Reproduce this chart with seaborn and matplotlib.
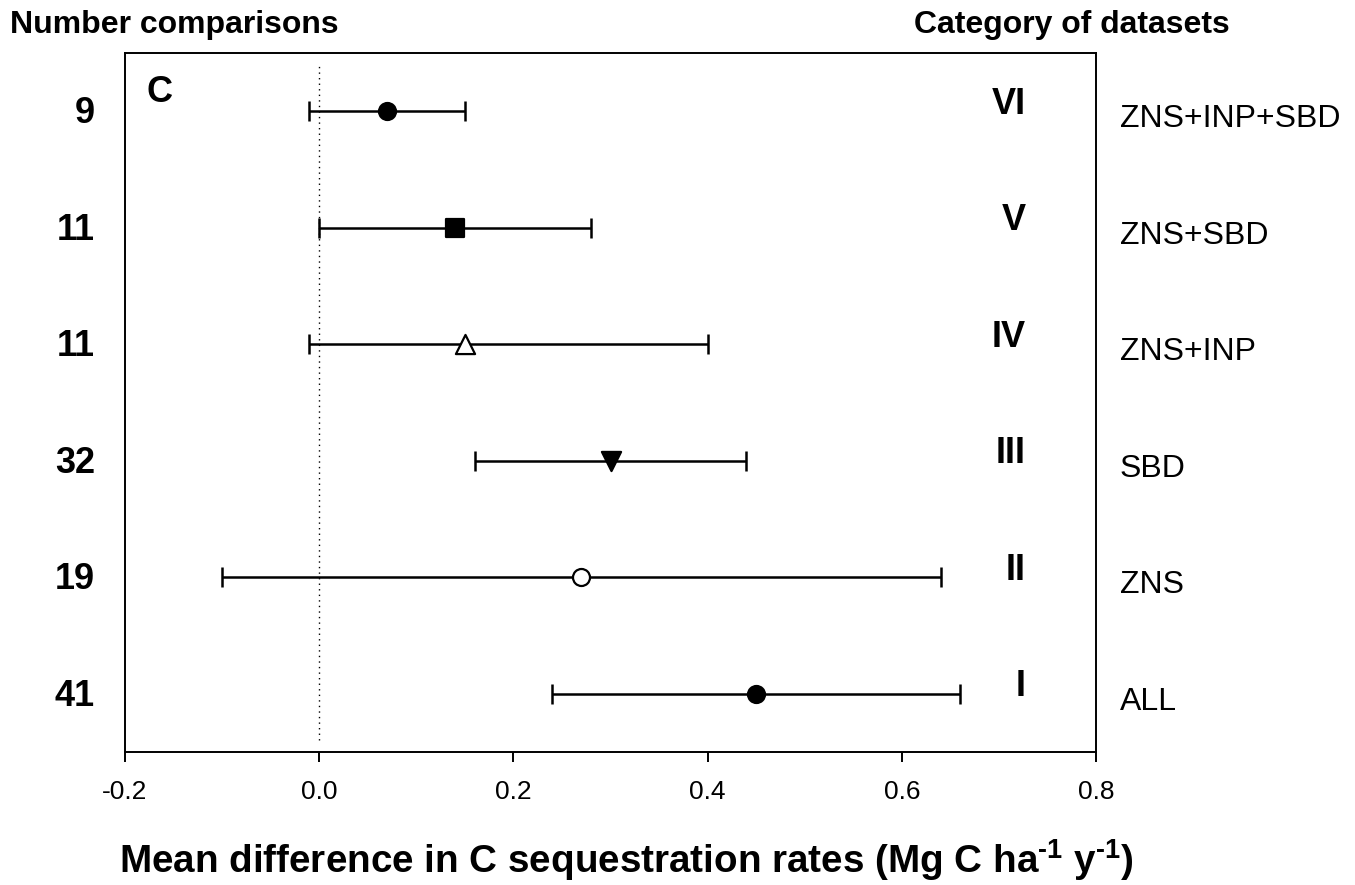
import matplotlib
matplotlib.use("Agg")
import matplotlib.pyplot as plt
import matplotlib.transforms as mtransforms
import seaborn as sns
import pandas as pd

# Values (row I at the bottom, VI at the top)
categories = ["I", "II", "III", "IV", "V", "VI"]
datasets = ["ALL", "ZNS", "SBD", "ZNS+INP", "ZNS+SBD", "ZNS+INP+SBD"]
n_comparisons = [41, 19, 32, 11, 11, 9]
mean_diff = [0.45, 0.27, 0.30, 0.15, 0.14, 0.07]
ci_low = [0.24, -0.10, 0.16, -0.01, 0.00, -0.01]
ci_high = [0.66, 0.64, 0.44, 0.40, 0.28, 0.15]

# marker per row
markers = ["o", "o", "v", "^", "s", "o"]
filled = [True, False, True, False, True, True]

df = pd.DataFrame({
    "category": categories,
    "dataset": datasets,
    "n": n_comparisons,
    "mean": mean_diff,
    "low": ci_low,
    "high": ci_high,
})
df["pos"] = range(1, len(df) + 1)

sns.set_style("white")
plt.rcParams["font.family"] = ["Liberation Sans", "DejaVu Sans"]
plt.rcParams["text.color"] = "black"
plt.rcParams["axes.labelcolor"] = "black"
plt.rcParams["xtick.color"] = "black"
plt.rcParams["mathtext.fontset"] = "custom"
plt.rcParams["mathtext.rm"] = "Liberation Sans:bold"
plt.rcParams["mathtext.bf"] = "Liberation Sans:bold"
plt.rcParams["mathtext.default"] = "bf"

fig = plt.figure(figsize=(13.55, 8.85), dpi=100)
ax = fig.add_axes([125 / 1355, 1 - 752 / 885, (1096 - 125) / 1355, (752 - 53) / 885])

# zero reference line
ax.vlines(0, 0.6, 6.4, colors="black", linestyles=(0, (1, 3)), linewidth=1)

# error bars
ax.errorbar(df["mean"], df["pos"],
            xerr=[df["mean"] - df["low"], df["high"] - df["mean"]],
            fmt="none", ecolor="black", elinewidth=1.8, capsize=7, capthick=1.8)

# point markers
for i, row in df.iterrows():
    sns.scatterplot(x=[row["mean"]], y=[row["pos"]], ax=ax, marker=markers[i],
                    s=150 if markers[i] in ("o", "s") else 190,
                    color="black" if filled[i] else "white",
                    edgecolor="black", linewidth=1.6, zorder=5, legend=False)

ax.set_xlim(-0.2, 0.8)
ax.set_ylim(0.5, 6.5)
ax.set_xticks([-0.2, 0.0, 0.2, 0.4, 0.6, 0.8])
ax.set_xticklabels(["-0.2", "0.0", "0.2", "0.4", "0.6", "0.8"])
ax.set_yticks([])
ax.set_xlabel("")
ax.set_ylabel("")
ax.tick_params(axis="x", direction="out", length=7, width=1.4, pad=13,
               labelsize=19, bottom=True, colors="black")
for sp in ax.spines.values():
    sp.set_visible(True)
    sp.set_color("black")
    sp.set_linewidth(1.4)

# left numbers
left_tr = mtransforms.blended_transform_factory(fig.transFigure, ax.transData)
for _, row in df.iterrows():
    ax.text(95 / 1355, row["pos"] - 0.02, str(row["n"]), transform=left_tr,
            ha="right", va="center", fontsize=26, fontweight="bold")

# roman numerals inside the axes
in_tr = mtransforms.blended_transform_factory(ax.transAxes, ax.transData)
for _, row in df.iterrows():
    ax.text(0.928, row["pos"] + 0.06, row["category"], transform=in_tr,
            ha="right", va="center", fontsize=26, fontweight="bold")

# dataset names on the right
for _, row in df.iterrows():
    ax.text(1120 / 1355, row["pos"] - 0.07, row["dataset"], transform=left_tr,
            ha="left", va="center", fontsize=23)

ax.text(147 / 1355, 1 - 92 / 885, "C", transform=fig.transFigure,
        ha="left", va="center", fontsize=26, fontweight="bold")

fig.text(10 / 1355, 1 - 33 / 885, "Number comparisons", ha="left", va="baseline",
         fontsize=23, fontweight="bold")
fig.text(1230 / 1355, 1 - 33 / 885, "Category of datasets", ha="right", va="baseline",
         fontsize=23, fontweight="bold")

fig.text(626 / 1355, 1 - 873 / 885,
         r"Mean difference in C sequestration rates (Mg C ha$^{\text{-1}}$ y$^{\text{-1}}$)",
         ha="center", va="baseline", fontsize=27.8, fontweight="bold")

fig.savefig("out.png", dpi=100)
